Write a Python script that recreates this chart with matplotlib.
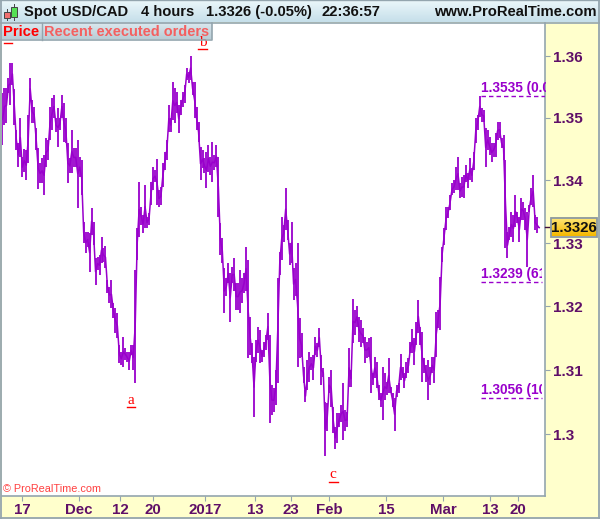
import numpy as np
import matplotlib
matplotlib.use("Agg")
import matplotlib.pyplot as plt
from matplotlib.patches import Rectangle
from matplotlib.ticker import FixedLocator, FixedFormatter, NullLocator

# 4-hour bar highs and lows, USD/CAD, in 1/10000 units
highs = [13540,13548,13548,13565,13589,13589,13547,13481,13460,13500,13437,13450,13448,13505,13565,13529,13518,13484,13452,13427,
13435,13440,13468,13465,13518,13532,13537,13500,13516,13500,13537,13524,13500,13460,13435,13481,13452,13452,13465,13437,
13432,13333,13317,13317,13316,13356,13333,13276,13278,13281,13310,13292,13295,13241,13230,13241,13205,13197,13189,13139,
13128,13152,13134,13128,13128,13139,13139,13257,13324,13397,13357,13344,13392,13341,13348,13397,13421,13416,13434,13384,
13389,13427,13445,13465,13521,13500,13558,13548,13542,13521,13529,13542,13553,13581,13574,13600,13558,13558,13518,13494,
13453,13448,13435,13445,13456,13437,13461,13440,13456,13437,13332,13308,13260,13244,13268,13252,13262,13276,13237,13237,
13257,13244,13252,13294,13273,13183,13142,13120,13147,13167,13163,13131,13144,13155,13189,13155,13077,13072,13100,13244,
13286,13341,13329,13387,13337,13300,13333,13260,13268,13300,13181,13158,13105,13069,13116,13128,13120,13123,13152,13142,
13166,13123,13103,13050,13048,13089,13100,13042,13011,13033,13033,13045,13080,13038,13034,13134,13100,13211,13194,13200,
13183,13178,13166,13152,13144,13150,13152,13095,13120,13112,13077,13064,13105,13095,13081,13119,13073,13064,13056,13077,
13080,13125,13105,13095,13112,13119,13144,13164,13150,13175,13210,13167,13159,13119,13108,13116,13105,13120,13120,13191,
13194,13246,13294,13324,13357,13357,13376,13395,13400,13421,13437,13395,13405,13408,13424,13411,13435,13419,13445,13500,
13505,13535,13516,13513,13484,13481,13469,13460,13460,13476,13494,13494,13468,13473,13432,13317,13325,13349,13344,13376,
13349,13341,13371,13365,13356,13349,13360,13387,13408,13344,13341,13325]
lows = [13456,13489,13492,13540,13521,13553,13489,13448,13421,13437,13405,13413,13400,13427,13529,13492,13492,13448,13386,13395,
13395,13376,13421,13432,13465,13481,13500,13477,13453,13481,13500,13461,13460,13395,13411,13411,13421,13421,13356,13405,
13376,13300,13284,13294,13254,13313,13297,13233,13257,13249,13268,13270,13260,13221,13206,13197,13181,13158,13150,13111,
13108,13105,13116,13112,13100,13123,13100,13080,13273,13310,13329,13316,13324,13324,13329,13360,13384,13397,13360,13357,
13360,13389,13416,13432,13477,13477,13497,13492,13508,13476,13505,13518,13524,13561,13556,13561,13537,13500,13481,13461,
13400,13419,13411,13387,13413,13408,13397,13416,13421,13341,13281,13268,13189,13217,13237,13175,13237,13225,13194,13194,
13189,13205,13221,13225,13119,13123,13111,13027,13112,13127,13111,13112,13120,13131,13147,13017,13030,13034,13045,13080,
13249,13273,13302,13321,13305,13265,13268,13210,13217,13105,13119,13120,13080,13050,13069,13081,13100,13084,13123,13120,
13136,13077,13089,12967,13006,13064,13042,13002,12978,12986,13011,13019,12991,13006,13011,13073,13073,13142,13155,13167,
13144,13136,13142,13111,13119,13120,13064,13077,13087,13072,13053,13042,13023,13053,13061,13064,13064,13042,13006,13058,
13064,13084,13087,13072,13087,13095,13127,13127,13108,13139,13158,13139,13081,13095,13081,13053,13077,13095,13080,13120,
13166,13163,13270,13297,13321,13340,13352,13376,13379,13384,13384,13371,13373,13371,13397,13387,13400,13397,13416,13460,
13481,13502,13494,13494,13421,13448,13440,13429,13437,13437,13465,13468,13452,13432,13292,13276,13305,13310,13302,13325,
13332,13302,13337,13337,13321,13262,13349,13360,13357,13321,13316,13324]

x_ticks = [9.8, 38.6, 59.3, 76, 102.3, 127.5, 145.7, 164.9, 193.7, 222.5, 246.2, 260.4]
x_labels = ["17", "Dec", "12", "20", "2017", "13", "23", "Feb", "15", "Mar", "13", "20"]
y_ticks = [1.30, 1.31, 1.32, 1.33, 1.34, 1.35, 1.36]
y_labels = ["1.3", "1.31", "1.32", "1.33", "1.34", "1.35", "1.36"]
fib_levels = [1.3535, 1.3239, 1.3056]
fib_labels = ["1.3535 (0.0%)", "1.3239 (61.8%)", "1.3056 (100%)"]
last_price = 1.3326

highs = np.array(highs) / 10000
lows = np.array(lows) / 10000
idx = np.arange(len(highs))

FONT = "Liberation Sans"
W, H = 600, 519
PURPLE = "#9900CC"
LABEL = "#5F0F68"
GREY = "#94A5AE"
YEL = "#FFFFCC"

fig = plt.figure(figsize=(W / 100, H / 100), dpi=100, facecolor=YEL)

L, R, T, B = 1.5, 545.5, 23, 495.5
ax = fig.add_axes([L / W, 1 - B / H, (R - L) / W, (B - T) / H])
ax.set_yscale("log")
ax.set_ylim(1.29056, 1.36537)
ax.set_xlim(-0.5, 274.2)
ax.vlines(idx, lows, highs, color=PURPLE, lw=1.3, capstyle="butt", zorder=3)
# bars run into each other: join them through their mid-points
ax.plot(idx, (highs + lows) / 2, color=PURPLE, lw=1.1, zorder=3)

ax.yaxis.tick_right()
ax.yaxis.set_major_locator(FixedLocator(y_ticks))
ax.yaxis.set_major_formatter(FixedFormatter(y_labels))
ax.yaxis.set_minor_locator(NullLocator())
ax.xaxis.set_major_locator(FixedLocator(x_ticks))
ax.xaxis.set_major_formatter(FixedFormatter(x_labels))
ax.xaxis.set_minor_locator(NullLocator())
ax.tick_params(axis="y", which="major", length=3.6, width=0.8, color=GREY, pad=1.5,
               labelcolor=LABEL, labelsize=11)
ax.tick_params(axis="x", which="major", length=3.6, width=0.8, color=GREY, pad=1.6,
               labelcolor=LABEL, labelsize=10.8)
for lab in ax.get_xticklabels() + ax.get_yticklabels():
    lab.set_fontfamily(FONT)
    lab.set_fontweight("bold")
for name, sp in ax.spines.items():
    sp.set_color(GREY)
    sp.set_linewidth(1.2)
ax.spines["top"].set_visible(False)
ax.spines["left"].set_visible(False)

# last price marker on the axis
ax.plot([1, 1.011], [last_price] * 2, transform=ax.get_yaxis_transform(), color="#40103F",
        lw=1.0, clip_on=False, zorder=5)

# overlay in picture coordinates for the platform's frame
ov = fig.add_axes([0, 0, 1, 1], zorder=10)
ov.set_xlim(0, W)
ov.set_ylim(H, 0)
ov.axis("off")
ov.patch.set_alpha(0)

# Fibonacci levels
x_start = 241.7
for lev, txt, right in zip(fib_levels, fib_labels, [274.2, 272.2, 272.2]):
    ax.plot([x_start, right], [lev, lev], color=PURPLE, lw=1.0, dashes=(3.2, 2.2), zorder=4)
    t = ax.annotate(txt, (x_start, lev), xytext=(0, 0.8), textcoords="offset points",
                    color=PURPLE, fontfamily=FONT, fontweight="bold", fontsize=9.8,
                    ha="left", va="bottom", annotation_clip=False, zorder=4)
    right_px = L + (right + 0.5) / 274.7 * (R - L)
    t.set_clip_path(Rectangle((470, T), right_px - 470, B - T, transform=ov.transData))

def grad(x0, x1, y0, y1, c0, c1):
    c0 = np.array(matplotlib.colors.to_rgb(c0))
    c1 = np.array(matplotlib.colors.to_rgb(c1))
    t = np.linspace(0, 1, 32)[:, None, None]
    img = c0[None, None, :] * (1 - t) + c1[None, None, :] * t
    ov.imshow(img, extent=(x0, x1, y1, y0), aspect="auto", zorder=1, interpolation="bilinear")

# header
grad(0, 600, 0, 22.5, "#EDF8FB", "#C6DFEA")
ov.plot([0, 600], [22.5, 22.5], color=GREY, lw=1.2, zorder=2)
ov.plot([0, 600], [0.4, 0.4], color=GREY, lw=1.0, zorder=2)
hdr = dict(fontfamily=FONT, fontweight="bold", fontsize=10.6, color="#111111", va="center", zorder=3)
ov.text(23.5, 12, "Spot USD/CAD", **hdr)
ov.text(141, 12, "4 hours", **hdr)
ov.text(206.5, 12, "1.3326 (-0.05%)", **hdr)
ov.text(322, 12, "22:36:57", **hdr)
ov.text(596.5, 12, "www.ProRealTime.com", ha="right", **hdr)

# candle icon
ov.add_patch(Rectangle((3.5, 11.5), 6, 6.5, fc="#F07070", ec="#444444", lw=0.7, zorder=3))
ov.plot([6.5, 6.5], [9, 20], color="#444444", lw=0.7, zorder=2.9)
ov.add_patch(Rectangle((11, 7), 6, 10, fc="#55E055", ec="#444444", lw=0.7, zorder=3))
ov.plot([14, 14], [4, 20], color="#444444", lw=0.7, zorder=2.9)

# wave labels
for lx, ly, s, ux0, ux1, uy in [(130.5, 404.5, "a", 127, 135, 406.5),
                                (202.5, 45.5, "b", 198, 207, 48.5),
                                (332.5, 478.5, "c", 329, 338, 481.5),
                                (8, 40.5, "", 4, 12, 42.5)]:
    if s:
        ov.text(lx, ly, s, color="#FF0000", fontfamily="Liberation Serif", fontsize=11,
                ha="center", va="baseline", zorder=2)
    ov.plot([ux0, ux1], [uy, uy], color="#FF0000", lw=1.0, zorder=2)

# buttons
grad(1, 212, 23, 39.5, "#DCE9EF", "#B9CDD6")
ov.plot([1, 212, 212], [39.5, 39.5, 23], color=GREY, lw=1.2, zorder=3)
ov.plot([41.5, 41.5], [23, 39.5], color=GREY, lw=1.0, zorder=3)
btn = dict(fontfamily=FONT, fontweight="bold", va="center", zorder=4)
ov.text(3, 31.5, "Price", color="#FF0000", fontsize=10.6, **btn)
ov.text(44.5, 31.5, "Recent executed orders", color="#F46060", fontsize=10.45, **btn)

# copyright
ov.text(3, 489.5, "© ProRealTime.com", color="#FF4040", fontfamily=FONT, fontsize=7.8,
        va="center", zorder=4)

# price tag
grad(551, 597, 218, 236.5, "#FFE97A", "#F5B800")
ov.add_patch(Rectangle((551, 218), 46, 18.5, fc="none", ec="#8C9AA3", lw=1.3, zorder=5))
ov.text(574, 227.5, "1.3326", color="#111111", fontfamily=FONT, fontweight="bold", fontsize=10.8,
        ha="center", va="center", zorder=6)

# outer frame
ov.plot([0.7, 0.7], [0, H], color=GREY, lw=1.3, zorder=6)
ov.plot([0, W], [H - 0.8, H - 0.8], color=GREY, lw=1.3, zorder=6)
ov.plot([W - 0.7, W - 0.7], [0, H], color=GREY, lw=1.3, zorder=6)
ov.set_xlim(0, W)
ov.set_ylim(H, 0)

fig.savefig("out.png", dpi=100, facecolor=YEL)
